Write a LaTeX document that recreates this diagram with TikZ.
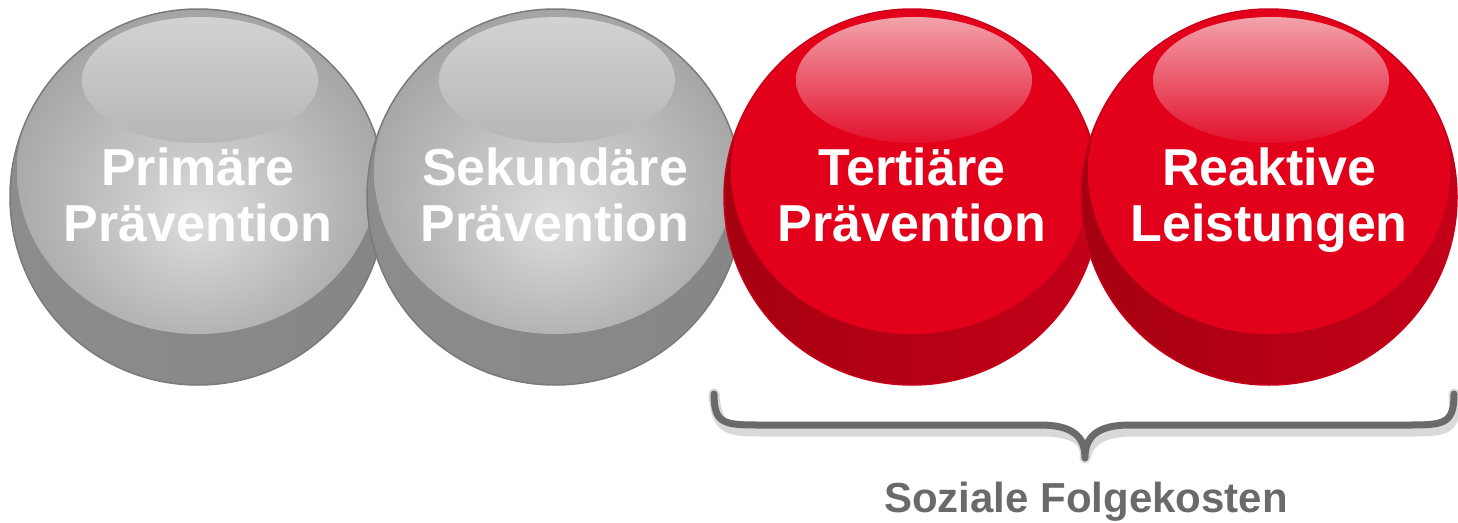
\documentclass[tikz,border=0pt]{standalone}
\usepackage{fontspec}
\setmainfont{Liberation Sans}
\definecolor{gcresL}{HTML}{8C8C8C}
\definecolor{gcresR}{HTML}{868686}
\definecolor{gIC}{HTML}{DCDCDC}
\definecolor{gIM}{HTML}{C4C4C4}
\definecolor{gIE}{HTML}{9A9A9A}
\definecolor{ghT}{HTML}{D2D2D2}
\definecolor{ghB}{HTML}{B6B6B6}
\definecolor{gout}{HTML}{7A7A7A}
\definecolor{rcresL}{HTML}{A50010}
\definecolor{rcresR}{HTML}{C40019}
\definecolor{rIC}{HTML}{E2001A}
\definecolor{rIE}{HTML}{E2001A}
\definecolor{rhT}{HTML}{F2A2AA}
\definecolor{rhB}{HTML}{E3102C}
\definecolor{rout}{HTML}{C8001A}
\definecolor{bracegray}{HTML}{6A6A6A}
\pgfdeclareradialshading{gin}{\pgfpoint{0bp}{-8bp}}{color(0bp)=(gIC); color(12bp)=(gIM); color(33bp)=(gIE); color(50bp)=(gIE)}
\pgfdeclareradialshading{rin}{\pgfpoint{0bp}{0bp}}{color(0bp)=(rIC); color(50bp)=(rIE)}
\newcommand\ballshape[2]{%
  \begin{scope}
    \clip (#1,197) circle[radius=188];
    \shade[left color=#2cresL, right color=#2cresR] (#1-190,5) rectangle (#1+190,390);
    \shade[shading=#2in] (#1,171) ellipse[x radius=181, y radius=163];
    \shade[top color=#2hT, bottom color=#2hB] (#1+2,80) ellipse[x radius=118, y radius=63];
  \end{scope}
  \draw[#2out, line width=1.5] (#1,197) circle[radius=188];
}
\tikzset{
  ball/.style={circle, minimum size=376pt, inner sep=0pt},
  balltext/.style={text=white, font=\fontsize{52}{56}\selectfont\bfseries, align=center, inner sep=0pt},
  bracestyle/.style={draw=bracegray, line width=7pt, line cap=round, line join=round},
  braceshadow/.style={draw=black, opacity=0.15, line width=11pt, line cap=round, line join=round},
  labelstyle/.style={text=bracegray, font=\fontsize{42}{46}\selectfont\bfseries, inner sep=0pt}
}
\begin{document}
\begin{tikzpicture}[x=1pt,y=-1pt]
\useasboundingbox (0,0) rectangle (1458,522);
% spheres
\ballshape{198}{g}
\node[ball] (b1) at (198,197) {};
\ballshape{555}{g}
\node[ball] (b2) at (555,197) {};
\ballshape{912}{r}
\node[ball] (b3) at (912,197) {};
\ballshape{1269}{r}
\node[ball] (b4) at (1269,197) {};
% texts
\node[balltext] (t1) at (198,195) {Primäre\\Prävention};
\node[balltext] (t2) at (555,195) {Sekundäre\\Prävention};
\node[balltext] (t3) at (912,195) {Tertiäre\\Prävention};
\node[balltext] (t4) at (1269,200.5) {Reaktive\\Leistungen};
% brace
\coordinate (bl) at (714,394);
\coordinate (br) at (1454,394);
\coordinate (tip) at (1085,458);
\begin{scope}[shift={(3,6)}]
\draw[braceshadow] (bl) .. controls (714,424) and (724,425) .. (760,425) -- (1040,425) .. controls (1072,425) and (1085,436) .. (tip)
  .. controls (1085,436) and (1098,425) .. (1130,425) -- (1408,425) .. controls (1444,425) and (1454,424) .. (br);
\end{scope}
\draw[bracestyle] (bl) .. controls (714,424) and (724,425) .. (760,425) -- (1040,425) .. controls (1072,425) and (1085,436) .. (tip)
  .. controls (1085,436) and (1098,425) .. (1130,425) -- (1408,425) .. controls (1444,425) and (1454,424) .. (br);
\node[labelstyle, anchor=base] (lab) at (1086,512) {Soziale Folgekosten};
\end{tikzpicture}
\end{document}
